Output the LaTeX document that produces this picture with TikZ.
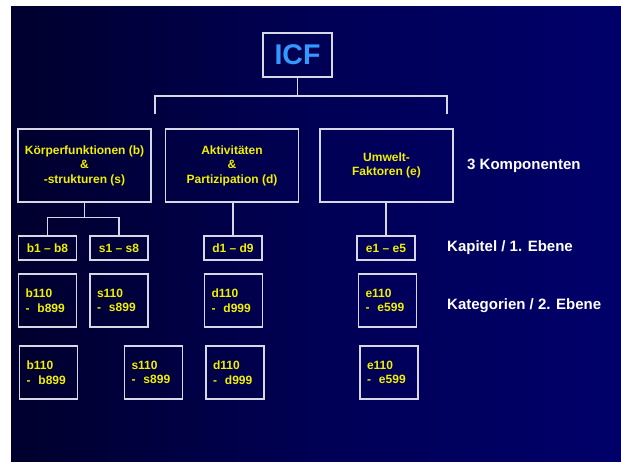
\documentclass[tikz,border=0pt]{standalone}
\usepackage{fontspec}
\setmainfont{Liberation Sans}
\definecolor{bgA}{RGB}{0,0,0}
\definecolor{bgB}{RGB}{0,0,45}
\definecolor{bgC}{RGB}{0,0,85}
\definecolor{bgD}{RGB}{0,0,110}
\definecolor{boxline}{RGB}{215,215,230}
\definecolor{ylw}{RGB}{240,240,0}
\definecolor{icfblue}{RGB}{51,153,255}
\pgfdeclarehorizontalshading{bgsh}{100bp}{color(0bp)=(bgA); color(25bp)=(bgB); color(50bp)=(bgC); color(80bp)=(bgD); color(100bp)=(bgD)}
\tikzset{
  box/.style={draw=boxline, line width=1.1pt, inner sep=0pt, text=ylw, font=\bfseries\fontsize{12}{14.5}\selectfont},
  comp/.style={box, minimum width=133pt, minimum height=73pt, align=center},
  chap/.style={box, minimum width=58pt, minimum height=24pt},
  cat/.style={box, minimum width=58pt, minimum height=53pt, text width=44pt, align=left},
  lbl/.style={text=white, font=\bfseries\fontsize{15}{18}\selectfont, anchor=west, inner sep=0pt},
  conn/.style={draw=boxline, line width=1.1pt}
}
\begin{document}
\begin{tikzpicture}[x=1pt,y=-1pt]
\useasboundingbox (0,0) rectangle (621,461);
\fill[white] (0,0) rectangle (621,461);
\shade[shading=bgsh] (11,6) rectangle (621.5,461.5);
% top
\node[box, minimum width=69pt, minimum height=44pt, text=icfblue, font=\bfseries\fontsize{28.5}{32}\selectfont] (icf) at (297.5,55) {ICF};
% components
\node[comp] (komp1) at (84.5,165.5) {Körperfunktionen (b)\\\&\\-strukturen (s)};
\node[comp] (komp2) at (232,165.5) {Aktivitäten\\\&\\Partizipation (d)};
\node[comp] (komp3) at (386.5,165.5) {Umwelt-\\Faktoren (e)};
% bracket
\coordinate (bl) at (155,114);
\coordinate (br) at (447,114);
\coordinate (blt) at (155,96);
\coordinate (brt) at (447,96);
\draw[conn] (bl) -- (blt) -- (brt) -- (br);
\draw[conn] (icf.south) -- (icf.south |- blt);
% chapters
\node[chap] (b1) at (47.5,248) {b1 – b8};
\node[chap] (s1) at (119,248) {s1 – s8};
\node[chap] (d1) at (233,248) {d1 – d9};
\node[chap] (e1) at (386,248) {e1 – e5};
\draw[conn] (b1.north) -- ++(0,-18) coordinate (j1) -| (s1.north);
\draw[conn] (komp1.south) -- (komp1.south |- j1);
\draw[conn] (d1.north) -- (d1.north |- komp2.south);
\draw[conn] (e1.north) -- (e1.north |- komp3.south);
% categories row 1
\node[cat] (b2) at (47.5,300.5) {b110\\-\ \ b899};
\node[cat] (s2) at (119,300.5) {s110\\-\ \ s899};
\node[cat] (d2) at (233.5,300.5) {d110\\-\ \ d999};
\node[cat] (e2) at (387.5,300.5) {e110\\-\ \ e599};
% categories row 2
\node[cat] (b3) at (48.5,372.5) {b110\\-\ \ b899};
\node[cat] (s3) at (153.5,372.5) {s110\\-\ \ s899};
\node[cat] (d3) at (235,372.5) {d110\\-\ \ d999};
\node[cat] (e3) at (389,372.5) {e110\\-\ \ e599};
% labels
\node[lbl] (l1) at (467,166) {3 Komponenten};
\node[lbl] (l2) at (447,248) {Kapitel / 1. Ebene};
\node[lbl] (l3) at (447,306) {Kategorien / 2. Ebene};
\end{tikzpicture}
\end{document}
